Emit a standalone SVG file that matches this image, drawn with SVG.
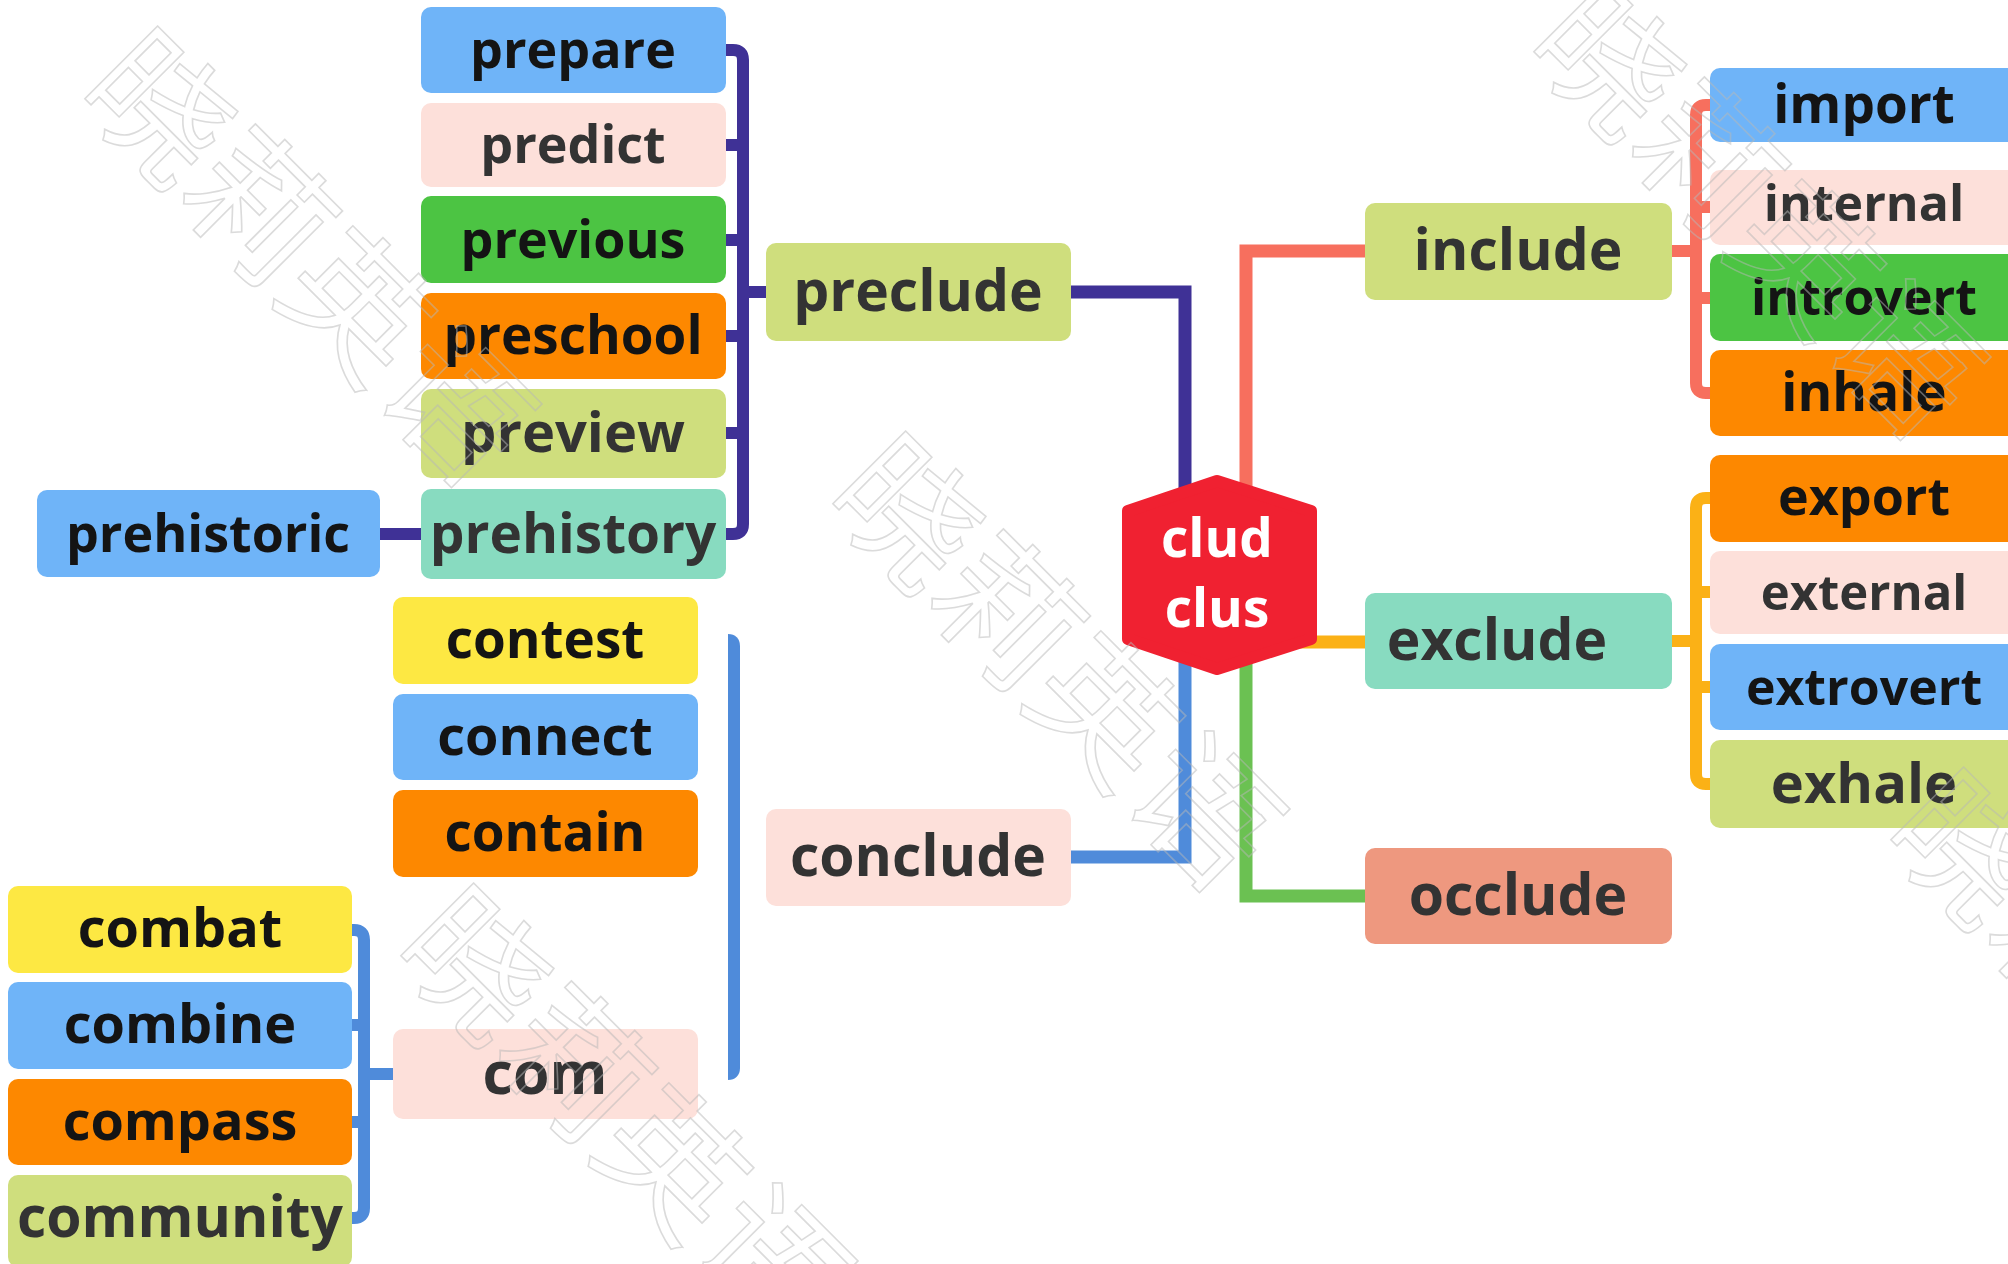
<svg xmlns="http://www.w3.org/2000/svg" width="2008" height="1264" viewBox="0 0 2008 1264">
<style>
.n rect{rx:10;ry:10}
.t{font-family:"Open Sans","Liberation Sans",sans-serif;font-weight:700;font-size:57px;text-anchor:middle}
.d{fill:#141414}
.g{fill:#333333}
.blue{fill:#6fb4f8}
.pink{fill:#fde0da}
.green{fill:#4cc443}
.orange{fill:#fd8800}
.lime{fill:#cfde7d}
.teal{fill:#88dbc0}
.yellow{fill:#fde843}
.salmon{fill:#ee987f}
.c{fill:none;stroke-width:12;stroke-linecap:butt;stroke-linejoin:round}
.m{fill:none;stroke-width:13;stroke-linejoin:miter}
.pu{stroke:#3f3196}
.sa{stroke:#f76f5e}
.or{stroke:#fbb116}
.bl{stroke:#4f8bda}
.gr{stroke:#6bc152}
.wm{font-family:"Noto Sans CJK SC",sans-serif;font-size:140px;fill:none;stroke:#b8b8b8;stroke-width:1.6;opacity:0.5}
</style>
<rect width="2008" height="1264" fill="#ffffff"/>
<g id="connectors">
<path class="m pu" d="M1071,292 H1185 V540"/>
<path class="m sa" d="M1365,251 H1246 V540"/>
<path class="m bl" d="M1071,857 H1185 V620"/>
<path class="m gr" d="M1365,896 H1246 V620"/>
<path class="m or" d="M1300,642 H1365"/>
<path class="c pu" d="M726,50 H733 Q743,50 743,60 V524 Q743,534 733,534 H726"/>
<path class="c pu" d="M726,145 H743 M726,240 H743 M726,336 H743 M726,433 H743 M743,292 H766"/>
<path class="c pu" d="M380,534 H421"/>
<path class="c sa" d="M1710,105 H1706 Q1696,105 1696,115 V383 Q1696,393 1706,393 H1710"/>
<path class="c sa" d="M1696,207 H1710 M1696,298 H1710 M1672,251 H1696"/>
<path class="c or" d="M1710,498 H1706 Q1696,498 1696,508 V774 Q1696,784 1706,784 H1710"/>
<path class="c or" d="M1696,592 H1710 M1696,687 H1710 M1672,641 H1696"/>
<path class="c bl" d="M728,640 Q734,640 734,646 V1068 Q734,1074 728,1074"/>
<path class="c bl" d="M731,857 H740"/>
<path class="c bl" d="M352,930 H354 Q364,930 364,940 V1208 Q364,1218 354,1218 H352"/>
<path class="c bl" d="M352,1025 H364 M352,1122 H364 M364,1074 H393"/>
</g>
<g id="n-prepare" class="n"><rect class="blue" x="421" y="7" width="305" height="86"/><text class="t d" x="573" y="68" style="font-size:52px">prepare</text></g>
<g id="n-predict" class="n"><rect class="pink" x="421" y="103" width="305" height="84"/><text class="t g" x="573" y="163" style="font-size:52px">predict</text></g>
<g id="n-previous" class="n"><rect class="green" x="421" y="196" width="305" height="87"/><text class="t d" x="573" y="258" style="font-size:52px">previous</text></g>
<g id="n-preschool" class="n"><rect class="orange" x="421" y="293" width="305" height="86"/><text class="t d" x="573" y="354" style="font-size:53px">preschool</text></g>
<g id="n-preview" class="n"><rect class="lime" x="421" y="389" width="305" height="89"/><text class="t g" x="573" y="452" style="font-size:56px">preview</text></g>
<g id="n-prehistory" class="n"><rect class="teal" x="421" y="489" width="305" height="90"/><text class="t g" x="573" y="553" style="font-size:55px">prehistory</text></g>
<g id="n-prehistoric" class="n"><rect class="blue" x="37" y="490" width="343" height="87"/><text class="t d" x="208" y="552" style="font-size:52px">prehistoric</text></g>
<g id="n-preclude" class="n"><rect class="lime" x="766" y="243" width="305" height="98"/><text class="t g" x="918" y="311">preclude</text></g>
<g id="n-include" class="n"><rect class="lime" x="1365" y="203" width="307" height="97"/><text class="t g" x="1518" y="270">include</text></g>
<g id="n-exclude" class="n"><rect class="teal" x="1365" y="593" width="307" height="96"/><text class="t g" x="1497" y="660">exclude</text></g>
<g id="n-occlude" class="n"><rect class="salmon" x="1365" y="848" width="307" height="96"/><text class="t g" x="1518" y="915">occlude</text></g>
<g id="n-conclude" class="n"><rect class="pink" x="766" y="809" width="305" height="97"/><text class="t g" x="918" y="876">conclude</text></g>
<g id="n-import" class="n"><rect class="blue" x="1710" y="68" width="308" height="74"/><text class="t d" x="1864" y="123" style="font-size:53px">import</text></g>
<g id="n-internal" class="n"><rect class="pink" x="1710" y="170" width="308" height="75"/><text class="t g" x="1864" y="221" style="font-size:50px">internal</text></g>
<g id="n-introvert" class="n"><rect class="green" x="1710" y="254" width="308" height="87"/><text class="t d" x="1864" y="315" style="font-size:50px">introvert</text></g>
<g id="n-inhale" class="n"><rect class="orange" x="1710" y="350" width="308" height="86"/><text class="t d" x="1864" y="411" style="font-size:53px">inhale</text></g>
<g id="n-export" class="n"><rect class="orange" x="1710" y="455" width="308" height="87"/><text class="t d" x="1864" y="515" style="font-size:52px">export</text></g>
<g id="n-external" class="n"><rect class="pink" x="1710" y="551" width="308" height="83"/><text class="t g" x="1864" y="610" style="font-size:49px">external</text></g>
<g id="n-extrovert" class="n"><rect class="blue" x="1710" y="644" width="308" height="86"/><text class="t d" x="1864" y="705" style="font-size:50px">extrovert</text></g>
<g id="n-exhale" class="n"><rect class="lime" x="1710" y="740" width="308" height="88"/><text class="t g" x="1864" y="803" style="font-size:56px">exhale</text></g>
<g id="n-contest" class="n"><rect class="yellow" x="393" y="597" width="305" height="87"/><text class="t d" x="545" y="658" style="font-size:53px">contest</text></g>
<g id="n-connect" class="n"><rect class="blue" x="393" y="694" width="305" height="86"/><text class="t d" x="545" y="755" style="font-size:54px">connect</text></g>
<g id="n-contain" class="n"><rect class="orange" x="393" y="790" width="305" height="87"/><text class="t d" x="545" y="851" style="font-size:53px">contain</text></g>
<g id="n-com" class="n"><rect class="pink" x="393" y="1029" width="305" height="90"/><text class="t g" x="545" y="1094" style="font-size:59px">com</text></g>
<g id="n-combat" class="n"><rect class="yellow" x="8" y="886" width="344" height="87"/><text class="t d" x="180" y="947" style="font-size:54px">combat</text></g>
<g id="n-combine" class="n"><rect class="blue" x="8" y="982" width="344" height="87"/><text class="t d" x="180" y="1043" style="font-size:54px">combine</text></g>
<g id="n-compass" class="n"><rect class="orange" x="8" y="1079" width="344" height="86"/><text class="t d" x="180" y="1140" style="font-size:54px">compass</text></g>
<g id="n-community" class="n"><rect class="lime" x="8" y="1175" width="344" height="92"/><text class="t g" x="180" y="1237">community</text></g>
<g id="n-root">
<polygon points="1217,481 1311,511 1311,639 1217,669 1128,639 1128,511" fill="#f02131" stroke="#f02131" stroke-width="12" stroke-linejoin="round"/>
<text class="t" x="1217" y="557" style="fill:#ffffff;font-size:53px">clud</text>
<text class="t" x="1217" y="627" style="fill:#ffffff;font-size:53px">clus</text>
</g>
<g id="watermarks">
<text class="wm" transform="translate(74,95) rotate(45)">晓莉英语</text>
<text class="wm" transform="translate(822,500) rotate(45)">晓莉英语</text>
<text class="wm" transform="translate(1523,48) rotate(45)">晓莉英语</text>
<text class="wm" transform="translate(390,952) rotate(45)">晓莉英语</text>
<text class="wm" transform="translate(1880,836) rotate(45)">晓莉英语</text>
</g>
</svg>
